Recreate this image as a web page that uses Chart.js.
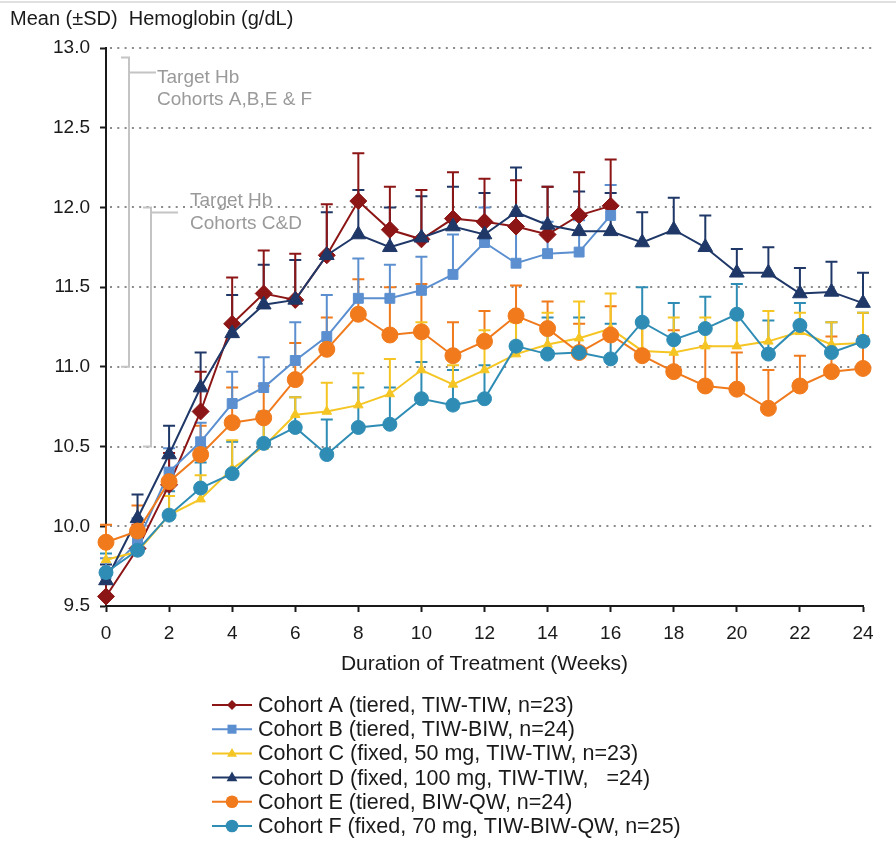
<!DOCTYPE html>
<html>
<head>
<meta charset="utf-8">
<script src="https://cdn.jsdelivr.net/npm/chart.js@4.4.1/dist/chart.umd.min.js"></script>
<style>
  html, body { margin: 0; padding: 0; background: #fff; }
  #wrap { position: relative; width: 896px; height: 855px; }
</style>
</head>
<body>
<div id="wrap"><canvas id="c" width="896" height="855"></canvas></div>
<script>
// ---------- DATA ----------
const weeks = [0,1,2,3,4,5,6,7,8,9,10,11,12,13,14,15,16,17,18,19,20,21,22,23,24];
const xTickLabels = ['0','2','4','6','8','10','12','14','16','18','20','22','24'];
const yTickLabels = ['9.5','10.0','10.5','11.0','11.5','12.0','12.5','13.0'];

const seriesNames = [
  'Cohort A (tiered, TIW-TIW, n=23)',
  'Cohort B (tiered, TIW-BIW, n=24)',
  'Cohort C (fixed, 50 mg, TIW-TIW, n=23)',
  'Cohort D (fixed, 100 mg, TIW-TIW,   =24)',
  'Cohort E (tiered, BIW-QW, n=24)',
  'Cohort F (fixed, 70 mg, TIW-BIW-QW, n=25)'
];

const cohortA   = [9.56, 9.86, 10.26, 10.72, 11.27, 11.46, 11.42, 11.70, 12.04, 11.86, 11.80, 11.93, 11.91, 11.88, 11.83, 11.95, 12.01];
const cohortASD = [0.08, 0.15, 0.20, 0.25, 0.29, 0.27, 0.29, 0.32, 0.30, 0.27, 0.31, 0.29, 0.27, 0.29, 0.30, 0.27, 0.29];

const cohortB   = [9.70, 9.90, 10.34, 10.53, 10.77, 10.87, 11.04, 11.19, 11.43, 11.43, 11.48, 11.58, 11.78, 11.65, 11.71, 11.72, 11.95];
const cohortBSD = [0.10, 0.15, 0.15, 0.12, 0.20, 0.19, 0.24, 0.26, 0.25, 0.21, 0.21, 0.25, 0.22, 0.22, 0.20, 0.20, 0.19];

const cohortC   = [9.79, 9.84, 10.07, 10.17, 10.36, 10.50, 10.70, 10.72, 10.76, 10.83, 10.98, 10.89, 10.98, 11.08, 11.14, 11.18, 11.24, 11.10, 11.09, 11.13, 11.13, 11.16, 11.22, 11.14, 11.15];
const cohortCSD = [0.08, 0.10, 0.12, 0.15, 0.18, 0.20, 0.11, 0.18, 0.20, 0.22, 0.30, 0.12, 0.25, 0.20, 0.20, 0.23, 0.22, 0.20, 0.22, 0.18, 0.20, 0.19, 0.12, 0.14, 0.19];

const cohortD   = [9.66, 10.05, 10.45, 10.87, 11.21, 11.39, 11.42, 11.70, 11.83, 11.75, 11.81, 11.88, 11.83, 11.97, 11.89, 11.85, 11.85, 11.78, 11.86, 11.75, 11.59, 11.59, 11.46, 11.47, 11.40];
const cohortDSD = [0.10, 0.15, 0.18, 0.22, 0.24, 0.25, 0.25, 0.27, 0.28, 0.25, 0.26, 0.25, 0.26, 0.28, 0.24, 0.25, 0.24, 0.19, 0.20, 0.20, 0.15, 0.16, 0.16, 0.19, 0.19];

const cohortE   = [9.90, 9.97, 10.28, 10.45, 10.65, 10.68, 10.92, 11.11, 11.33, 11.20, 11.22, 11.07, 11.16, 11.32, 11.24, 11.09, 11.20, 11.07, 10.97, 10.88, 10.86, 10.74, 10.88, 10.97, 10.99];
const cohortESD = [0.11, 0.16, 0.15, 0.18, 0.22, 0.20, 0.23, 0.20, 0.22, 0.30, 0.30, 0.21, 0.19, 0.19, 0.17, 0.18, 0.18, 0.20, 0.26, 0.25, 0.23, 0.24, 0.19, 0.22, 0.20];

const cohortF   = [9.71, 9.85, 10.07, 10.24, 10.33, 10.52, 10.62, 10.45, 10.62, 10.64, 10.80, 10.76, 10.80, 11.13, 11.08, 11.09, 11.05, 11.28, 11.17, 11.24, 11.33, 11.08, 11.26, 11.09, 11.16];
const cohortFSD = [0.12, 0.12, 0.15, 0.16, 0.20, 0.20, 0.19, 0.22, 0.25, 0.23, 0.23, 0.22, 0.21, 0.20, 0.23, 0.22, 0.22, 0.22, 0.23, 0.20, 0.19, 0.21, 0.14, 0.19, 0.18];

// Target Hb ranges (g/dL)
const targetAB_EF = [11.0, 12.94];
const targetCD = [10.5, 12.0];

// ---------- STYLE ----------
const colors = ['#8c1515', '#5b8fd0', '#f5c623', '#1f3868', '#f07a1c', '#2f8db5'];
const styles = ['rectRot', 'rect', 'triangle', 'triangle', 'circle', 'circle'];
const radii  = [8.5, 7, 5.5, 8.5, 8, 7];
const legendRadii = [5, 5.3, 5.5, 6, 6.3, 6.3];
const FONT = '"Liberation Sans", Arial, sans-serif';

const values = [cohortA, cohortB, cohortC, cohortD, cohortE, cohortF];
const sds = [cohortASD, cohortBSD, cohortCSD, cohortDSD, cohortESD, cohortFSD];

const datasets = values.map((vals, i) => ({
  label: seriesNames[i],
  data: vals.map((v, k) => ({ x: weeks[k], y: v })),
  sd: sds[i],
  borderColor: colors[i],
  backgroundColor: colors[i],
  pointBackgroundColor: colors[i],
  pointBorderColor: colors[i],
  pointStyle: styles[i],
  pointRadius: radii[i],
  pointHoverRadius: radii[i],
  pointBorderWidth: 1,
  borderWidth: 2,
  tension: 0,
  clip: false,
  order: 6 - i
}));

function drawMarker(ctx, style, x, y, r, color) {
  ctx.save();
  ctx.fillStyle = color;
  ctx.beginPath();
  if (style === 'circle') {
    ctx.arc(x, y, r, 0, Math.PI * 2);
  } else if (style === 'rect') {
    const s = r * 0.85;
    ctx.rect(x - s, y - s, 2 * s, 2 * s);
  } else if (style === 'rectRot') {
    ctx.moveTo(x, y - r); ctx.lineTo(x + r, y); ctx.lineTo(x, y + r); ctx.lineTo(x - r, y); ctx.closePath();
  } else if (style === 'triangle') {
    ctx.moveTo(x, y - r); ctx.lineTo(x + r * 0.9, y + r * 0.6); ctx.lineTo(x - r * 0.9, y + r * 0.6); ctx.closePath();
  }
  ctx.fill();
  ctx.restore();
}

const custom = {
  id: 'custom',
  beforeDatasetsDraw(chart) {
    const ctx = chart.ctx;
    const xs = chart.scales.x, ys = chart.scales.y;
    const area = chart.chartArea;
    // dotted horizontal gridlines
    ctx.save();
    ctx.strokeStyle = '#8a8a8a';
    ctx.lineWidth = 2;
    ctx.setLineDash([2, 5.3]);
    ys.ticks.forEach(t => {
      if (t.value <= ys.min) return;
      const y = Math.round(ys.getPixelForValue(t.value));
      ctx.beginPath();
      ctx.moveTo(area.left + 4, y);
      ctx.lineTo(area.right + 10, y);
      ctx.stroke();
    });
    ctx.restore();

    // target brackets
    ctx.save();
    ctx.strokeStyle = '#c4c4c4';
    ctx.lineWidth = 2;
    const b1t = ys.getPixelForValue(targetAB_EF[1]), b1b = ys.getPixelForValue(targetAB_EF[0]);
    const bx1 = area.left + 23;
    ctx.beginPath();
    ctx.moveTo(bx1 - 8, b1t); ctx.lineTo(bx1, b1t); ctx.lineTo(bx1, b1b); ctx.lineTo(bx1 - 8, b1b);
    ctx.moveTo(bx1, b1t + 15); ctx.lineTo(bx1 + 27, b1t + 15);
    ctx.stroke();
    const b2t = ys.getPixelForValue(targetCD[1]), b2b = ys.getPixelForValue(targetCD[0]);
    const bx2 = area.left + 45;
    ctx.beginPath();
    ctx.moveTo(bx2 - 8, b2t); ctx.lineTo(bx2, b2t); ctx.lineTo(bx2, b2b); ctx.lineTo(bx2 - 8, b2b);
    ctx.moveTo(bx2, b2t + 5); ctx.lineTo(bx2 + 27, b2t + 5);
    ctx.stroke();
    ctx.fillStyle = '#9a9a9a';
    ctx.font = '19px ' + FONT;
    ctx.textBaseline = 'middle';
    ctx.textAlign = 'left';
    ctx.fillText('Target Hb', bx1 + 28, b1t + 20);
    ctx.fillText('Cohorts A,B,E & F', bx1 + 28, b1t + 42);
    ctx.fillText('Target Hb', bx2 + 39, b2t - 7);
    ctx.fillText('Cohorts C&D', bx2 + 39, b2t + 16);
    ctx.restore();

    // error bars (upper SD)
    ctx.save();
    ctx.lineWidth = 2;
    for (let i = chart.data.datasets.length - 1; i >= 0; i--) {
      const ds = chart.data.datasets[i];
      ctx.strokeStyle = ds.borderColor;
      ds.data.forEach((p, k) => {
        const sd = ds.sd[k];
        if (p.y == null || sd == null) return;
        const x = xs.getPixelForValue(p.x);
        const y0 = ys.getPixelForValue(p.y);
        const y1 = ys.getPixelForValue(p.y + sd);
        ctx.beginPath();
        ctx.moveTo(x, y0); ctx.lineTo(x, y1);
        ctx.moveTo(x - 6, y1); ctx.lineTo(x + 6, y1);
        ctx.stroke();
      });
    }
    ctx.restore();
  },
  afterDraw(chart) {
    const ctx = chart.ctx;
    ctx.save();
    // frame line at top
    ctx.strokeStyle = '#d6d6d6';
    ctx.lineWidth = 1.5;
    ctx.beginPath(); ctx.moveTo(0, 2); ctx.lineTo(896, 2); ctx.stroke();
    // y axis title
    ctx.fillStyle = '#1a1a1a';
    ctx.font = '20px ' + FONT;
    ctx.textBaseline = 'middle';
    ctx.textAlign = 'left';
    ctx.fillText('Mean (\u00B1SD)  Hemoglobin (g/dL)', 10, 19);
    // legend
    chart.data.datasets.forEach((ds, i) => {
      const y = 705 + i * 24.2;
      ctx.strokeStyle = ds.borderColor;
      ctx.lineWidth = 2;
      ctx.beginPath(); ctx.moveTo(212, y); ctx.lineTo(252, y); ctx.stroke();
      drawMarker(ctx, ds.pointStyle, 232, y, legendRadii[i], ds.borderColor);
      ctx.fillStyle = '#1a1a1a';
      ctx.font = '21.5px ' + FONT;
      ctx.fillText(ds.label, 258, y + 1);
    });
    ctx.restore();
  }
};

new Chart(document.getElementById('c'), {
  type: 'line',
  data: { datasets },
  plugins: [custom],
  options: {
    responsive: false,
    animation: false,
    events: [],
    layout: { padding: { left: 0, top: 48, right: 33, bottom: 174 } },
    plugins: { legend: { display: false }, tooltip: { enabled: false }, title: { display: false } },
    scales: {
      x: {
        type: 'linear', min: 0, max: 24,
        ticks: {
          stepSize: 2, color: '#1a1a1a', font: { family: FONT, size: 19 }, padding: 10,
          callback: (v) => xTickLabels.includes(String(v)) ? String(v) : ''
        },
        grid: { drawOnChartArea: false, drawTicks: true, tickLength: 6, tickColor: '#1a1a1a', tickWidth: 2 },
        border: { color: '#1a1a1a', width: 2 },
        title: { display: true, text: 'Duration of Treatment (Weeks)', color: '#1a1a1a', font: { family: FONT, size: 21 }, padding: { top: 4, bottom: 4 } },
        afterFit: (s) => { s.height = 75; }
      },
      y: {
        type: 'linear', min: 9.5, max: 13.0,
        ticks: {
          stepSize: 0.5, color: '#1a1a1a', font: { family: FONT, size: 19 }, padding: 10,
          callback: (v) => { const s = Number(v).toFixed(1); return yTickLabels.includes(s) ? s : ''; }
        },
        grid: { drawOnChartArea: false, drawTicks: true, tickLength: 6, tickColor: '#1a1a1a', tickWidth: 2 },
        border: { color: '#1a1a1a', width: 2 },
        afterFit: (s) => { s.width = 106; }
      }
    }
  }
});
</script>
</body>
</html>
